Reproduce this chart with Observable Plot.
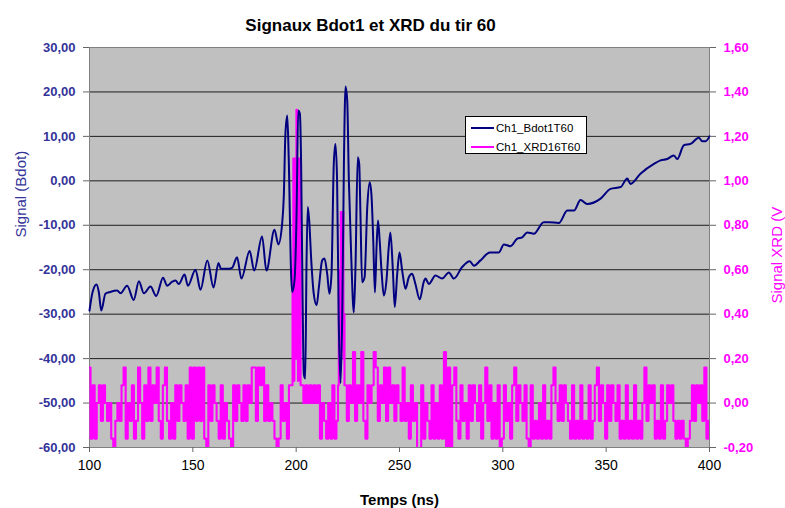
<!DOCTYPE html>
<html><head><meta charset="utf-8">
<script src="https://cdn.jsdelivr.net/npm/d3@7"></script>
<script src="https://cdn.jsdelivr.net/npm/@observablehq/plot@0.6"></script>
<style>
body{margin:0;background:#fff;font-family:"Liberation Sans",Arial,sans-serif;}
#wrap{position:relative;width:785px;height:508px;overflow:hidden;}
#legend{position:absolute;left:465px;top:116px;width:122px;height:38px;background:#fff;border:1px solid #000;box-sizing:border-box;font-size:11.5px;color:#000;}
#legend .row{position:absolute;left:0;height:14px;line-height:14px;white-space:nowrap;}
#legend .sw{position:absolute;left:5px;top:6px;width:23px;height:2px;}
#legend .lb{position:absolute;left:30px;top:0;}
</style>
</head><body>
<div id="wrap">
  <div id="legend">
    <div class="row" style="top:4px"><span class="sw" style="background:#000080"></span><span class="lb">Ch1_Bdot1T60</span></div>
    <div class="row" style="top:23px"><span class="sw" style="background:#ff00ff"></span><span class="lb">Ch1_XRD16T60</span></div>
  </div>
</div>
<script>
const chartTitle = "Signaux Bdot1 et XRD du tir 60";
const xTitle = "Temps (ns)";
const yLeftTitle = "Signal (Bdot)";
const yRightTitle = "Signal XRD (V";
const timeTicks = [100, 150, 200, 250, 300, 350, 400];
const bdotTicks = [-60, -50, -40, -30, -20, -10, 0, 10, 20, 30];
const xrdTicks = [-0.2, 0, 0.2, 0.4, 0.6, 0.8, 1.0, 1.2, 1.4, 1.6];

const bdotTime = [100,101.5,103.4,104.5,105.7,107.7,110,113.4,115,118.2,121.4,123.9,126.3,129.5,132.3,135.6,137.6,140,141.6,143.2,146,147.6,151.3,153.7,157,160,162.4,163.6,167.4,169,171.4,173.5,177.5,179.7,183.5,185.6,189.5,191.4,193.2,194,194.8,195.7,196.4,197.6,198.1,199.2,200.2,201,201.8,202.4,203.1,203.7,204.4,205,205.6,206.3,207.3,208.5,209.9,211,212.6,213.7,215,216.1,217.1,218.2,219,219.8,220.6,221.5,222.3,223.1,223.9,224.7,225.5,226.6,227.9,228.7,229.8,230.5,231.1,231.9,233.1,234.4,235.6,236.5,237.3,238.1,238.9,239.6,240.3,241.3,242.4,243.7,244.8,245.6,246.8,247.7,248.9,250,251.3,252.9,254.5,256.1,257.7,259.8,261.7,262.6,264.2,267.4,270.6,273.9,276.3,280.3,284,286,289.2,293.7,298.1,300.5,303.7,307,309.4,311.8,315,319.8,322.3,327.1,331.2,334.4,337.6,340.8,347.3,352.1,357,360.2,361.8,366.6,373.1,376.3,379.5,382.7,384.4,387.6,390.8,394.8,396.5,398.1,400];
const bdotSignal = [-29.2,-25,-23.3,-25,-29.2,-25.4,-25,-24.7,-25.3,-23.6,-26.8,-22.6,-25.3,-23.8,-25.9,-21.8,-23.6,-22.7,-22.4,-23.2,-21.1,-23.6,-20,-24.5,-17.9,-24,-18.5,-19.8,-19.8,-19.6,-17.2,-22,-15.8,-20.2,-12.5,-20.2,-11,-14.3,-9.7,-3.7,10.6,14.7,5,-21.7,-25,-22.4,-7.4,15.8,15.1,3.8,-26.2,-43.5,-44.5,-18.7,-5.9,-8.9,-17.9,-25.4,-28,-23.9,-17.9,-17.5,-20.9,-25.4,-20.9,3.8,8.3,0.1,-31.4,-45.5,-29.9,3.8,21.2,18.1,0.1,-16.4,-29.6,-19.4,5.3,3.8,-7.4,-22.8,-21.7,-5.9,-0.3,-3.7,-13.4,-25.1,-14.9,-8.9,-12.7,-20.2,-25.8,-22.4,-14.9,-11.6,-20.2,-28.4,-20.9,-16.1,-20.2,-24.3,-21.7,-20.9,-23.2,-26.7,-22.8,-22,-23.2,-21.3,-22,-20.6,-22,-19.4,-18.1,-19.1,-17.9,-16.1,-16.1,-14.3,-14.7,-13,-12.7,-11.6,-11.9,-9.3,-9.3,-9.5,-6.7,-6.7,-4.3,-5.2,-4,-1.8,-1.4,0.5,-0.7,1.6,3.8,4.6,4.9,5.7,4.9,8,8.3,9.7,8.9,8.9,10];

// XRD signal, one reading per ns from 100 to 400 ns
const xrdSignal = [
 .16,-.16,.08,-.16,0,.08,-.08,.08,0,-.08,
 0,-.16,-.23,-.08,0,-.08,.08,.16,-.16,0,
 -.08,.08,-.16,-.08,.16,0,-.16,.08,-.08,.16,
 -.08,.08,0,.16,-.08,-.16,.08,.16,-.08,-.16,
 0,-.16,.08,-.08,.08,0,-.08,.08,-.16,.16,
 -.16,.16,-.08,.16,-.08,.16,-.16,-.23,.08,-.08,
 .08,0,-.08,-.16,.08,-.16,0,-.08,-.16,-.23,
 .08,-.08,.08,0,-.08,.08,-.08,.08,0,.16,
 .16,-.08,.16,.08,.16,-.08,.08,-.08,0,-.08,
 -.16,-.23,-.16,.08,-.08,0,-.16,.08,.08,.08,
 .08,.08,.08,.08,0,.08,0,.08,0,.08,
 0,.08,-.16,0,-.08,-.16,0,-.16,.08,-.16,
 -.08,.08,.08,.08,.08,-.08,.08,0,.23,-.08,
 .08,0,.23,-.08,-.16,.08,0,.08,.23,.16,
 -.08,.08,0,.16,-.08,.16,0,.08,-.08,.08,
 0,-.08,.16,-.08,0,-.16,.08,-.08,0,-.23,
 -.23,.08,-.16,0,-.08,-.16,.08,-.16,0,-.16,
 .08,-.16,.23,-.23,.16,-.23,.08,.16,-.08,-.16,
 .08,-.08,0,-.16,.08,-.08,.08,0,-.08,.08,
 -.16,0,.16,-.08,.08,-.16,0,-.16,.08,-.23,
 -.16,.08,-.08,0,-.16,.08,.16,-.08,.08,0,
 -.08,.08,-.16,-.23,.08,-.16,-.08,-.16,0,-.16,
 .08,-.16,-.08,-.16,.08,.16,0,-.08,.08,-.08,
 .08,0,-.08,-.16,.08,-.16,-.08,-.16,.08,-.16,
 -.08,-.16,.08,-.16,-.08,.08,.16,-.08,.08,0,
 -.16,.08,-.08,.08,0,-.08,.08,-.16,-.08,-.16,
 .08,-.16,-.08,-.16,.08,-.16,-.08,-.16,0,.16,
 -.08,.08,0,.08,-.16,-.08,-.16,.08,-.16,-.08,
 .08,0,.08,-.08,-.16,-.08,-.16,-.08,-.16,-.23,
 -.16,-.08,.08,-.08,.08,0,.08,-.08,.16,-.16,-.08
];
// finer readings in the two X-ray bursts
const xrdPeakTime = [198.5,198.75,199,199.25,199.5,199.75,200,200.25,200.5,200.75,201,201.25,201.5,201.75,202,202.25,220.5,220.75,221,221.25,221.5,221.75,222,222.25,222.5,222.75,223,223.25,223.5];
const xrdPeakSignal = [0.6,1.1,0.1,1.1,0.3,1.1,0.2,1.32,0.4,1.1,0.1,1.1,0.5,1.1,0.6,0.08,0.08,0.5,0.1,0.6,0.2,0.86,0.3,0.86,0.5,0.86,0.2,0.4,0.08];

const fmt = d => d.toFixed(2).replace(".", ",");
// secondary axis (-0.2..1.6 V) mapped onto primary (-60..30)
const toLeft = v => -60 + (v + 0.2) * 50;

const inBurst = t => (t >= 198.5 && t <= 202.25) || (t >= 220.5 && t <= 223.5);
const xrdTimes = d3.range(100, 401);
const xrd = xrdTimes.map((t, i) => ({t, v: xrdSignal[i]}))
  .filter(d => !inBurst(d.t))
  .concat(xrdPeakTime.map((t, i) => ({t, v: xrdPeakSignal[i]})))
  .sort((a, b) => a.t - b.t)
  .map(d => ({t: d.t, y: toLeft(d.v)}));
const bdot = bdotTime.map((t, i) => ({t, v: bdotSignal[i]}));

const font = "'Liberation Sans', Arial, sans-serif";
const chart = Plot.plot({
  width: 785, height: 508,
  marginLeft: 89, marginRight: 76, marginTop: 47, marginBottom: 61,
  x: {domain: [100, 400]},
  y: {domain: [-60, 30]},
  style: {fontFamily: font, fontSize: "13px", background: "transparent", overflow: "visible"},
  marks: [
    Plot.frame({fill: "#c0c0c0"}),
    Plot.gridY(bdotTicks.slice(1, -1), {stroke: "#000", strokeOpacity: 0.85, strokeWidth: 1}),
    Plot.frame({stroke: "#808080"}),
    Plot.line(xrd, {x: "t", y: "y", stroke: "#ff00ff", strokeWidth: 2.1, curve: "step", clip: true}),
    Plot.line(bdot, {x: "t", y: "v", stroke: "#000080", strokeWidth: 2, curve: "monotone-x"}),
    Plot.axisY({ticks: bdotTicks, tickFormat: fmt, tickSize: 6, tickPadding: 8, fill: "#333399", stroke: "#666", fontWeight: "bold", label: null}),
    Plot.axisY({anchor: "right", ticks: bdotTicks, tickFormat: d => fmt(xrdTicks[bdotTicks.indexOf(d)]), tickSize: 6, tickPadding: 8, fill: "#ff00ff", stroke: "#666", fontWeight: "bold", label: null}),
    Plot.axisX({ticks: timeTicks, tickFormat: d => String(d), tickSize: 5, tickPadding: 8, fill: "#000", stroke: "#666", fontSize: 14, label: null}),
    Plot.text([chartTitle], {frameAnchor: "top", dx: -29, dy: -29, fontSize: 17, fontWeight: "bold", fill: "#000"}),
    Plot.text([xTitle], {frameAnchor: "bottom", dy: 57, fontSize: 15, fontWeight: "bold", fill: "#000"}),
    Plot.text([yLeftTitle], {frameAnchor: "left", dx: -68, dy: -10, rotate: -90, fontSize: 15, fill: "#333399"}),
    Plot.text([yRightTitle], {frameAnchor: "right", dx: 68, dy: 56, rotate: -90, textAnchor: "start", fontSize: 15, fill: "#ff00ff"})
  ]
});
document.getElementById("wrap").prepend(chart);
</script>
</body></html>
